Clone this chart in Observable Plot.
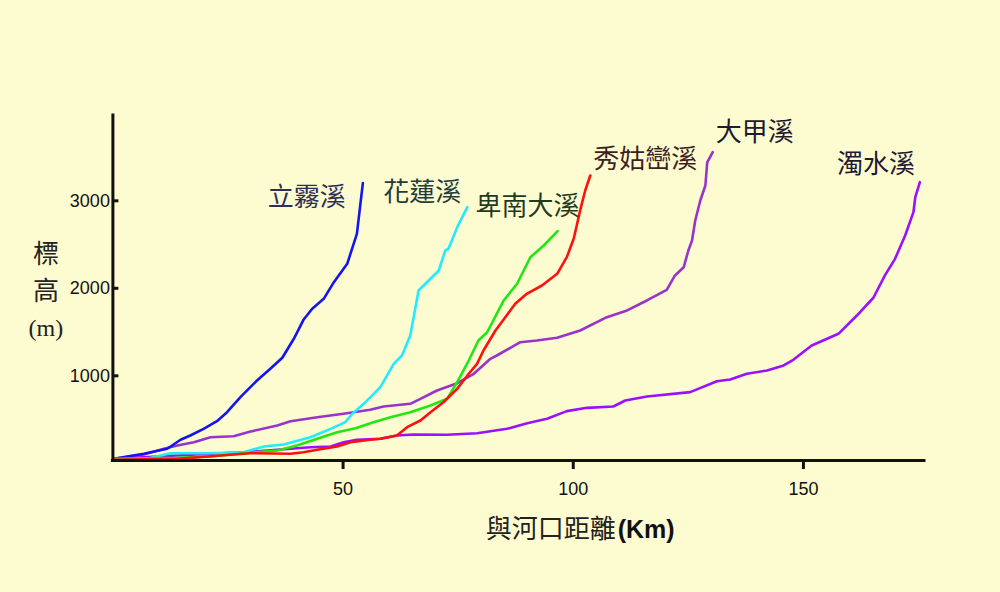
<!DOCTYPE html>
<html><head><meta charset="utf-8">
<script src="https://cdn.jsdelivr.net/npm/d3@7"></script>
<script src="https://cdn.jsdelivr.net/npm/@observablehq/plot@0.6"></script>
<style>html,body{margin:0;padding:0;background:#fdfcd0;} #chart svg{display:block}</style>
</head><body><div id="chart"></div>
<script>
// river names
const rivers = ["立霧溪", "花蓮溪", "卑南大溪", "秀姑巒溪", "大甲溪", "濁水溪"];

// distance from river mouth (km) and elevation (m) for each river
const liwuDist = [0.2, 6.7, 11.8, 14.7, 16.8, 19.7, 22.6, 24.8, 27.7, 31.3, 34.2, 36.8, 39.3, 41.4, 43.3, 45.8, 48.0, 50.9, 53.0, 53.6, 54.3];
const liwuElev = [51, 109, 166, 269, 318, 394, 481, 584, 756, 946, 1080, 1206, 1423, 1640, 1766, 1880, 2070, 2280, 2623, 2890, 3202];

const hualienDist = [6.2, 12.5, 21.2, 28.4, 32.8, 37.1, 42.9, 47.3, 50.5, 52.0, 54.5, 58.1, 61.0, 62.8, 64.6, 66.4, 70.8, 72.2, 72.9, 74.8, 77.0];
const hualienElev = [38, 115, 115, 127, 192, 215, 298, 394, 470, 566, 680, 870, 1137, 1232, 1461, 1975, 2204, 2432, 2452, 2699, 2927];

const beinanDist = [0.2, 14.0, 21.2, 28.4, 35.7, 40.0, 44.4, 48.7, 52.7, 56.6, 60.3, 64.6, 69.0, 72.6, 74.8, 77.3, 79.4, 81.3, 84.9, 87.8, 90.7, 93.6, 96.6];
const beinanElev = [51, 63, 78, 115, 146, 203, 280, 355, 401, 470, 527, 584, 661, 737, 929, 1175, 1404, 1498, 1861, 2052, 2356, 2489, 2653];

const xiuguluanDist = [0.2, 14.0, 23.4, 29.9, 38.6, 41.4, 44.4, 48.7, 51.6, 55.9, 58.1, 61.7, 63.9, 66.8, 69.0, 71.8, 74.8, 77.3, 79.1, 80.5, 83.1, 84.2, 87.4, 89.9, 93.2, 96.5, 98.6, 100.1, 101.5, 102.6, 103.7];
const xiuguluanElev = [40, 51, 89, 115, 109, 127, 154, 192, 241, 269, 280, 318, 413, 489, 584, 698, 852, 1023, 1137, 1289, 1518, 1594, 1823, 1937, 2032, 2166, 2356, 2566, 2890, 3118, 3289];

const dajiaDist = [0.2, 6.7, 11.1, 14.0, 17.6, 21.2, 26.2, 29.9, 35.7, 38.6, 44.4, 50.1, 55.9, 58.8, 64.6, 66.8, 70.4, 74.8, 78.4, 82.0, 83.4, 88.5, 92.1, 96.5, 101.5, 107.3, 111.7, 116.0, 120.3, 122.1, 124.0, 125.0, 125.8, 126.5, 127.6, 128.7, 129.1, 130.3];
const dajiaElev = [51, 101, 166, 203, 241, 298, 310, 363, 432, 481, 527, 566, 612, 649, 680, 737, 832, 916, 1023, 1194, 1232, 1384, 1404, 1434, 1518, 1670, 1747, 1861, 1983, 2147, 2241, 2432, 2547, 2775, 3004, 3175, 3438, 3556];

const zhuoshuiDist = [0.2, 14.0, 21.2, 28.4, 35.7, 42.9, 47.3, 50.1, 53.0, 58.1, 61.7, 65.3, 72.6, 79.1, 85.6, 90.0, 94.3, 98.6, 103.0, 108.7, 111.3, 116.0, 125.4, 131.2, 134.1, 137.7, 142.1, 145.7, 147.8, 151.8, 157.6, 161.6, 165.2, 167.7, 169.9, 172.1, 173.9, 174.3, 175.3];
const zhuoshuiElev = [51, 89, 109, 127, 154, 184, 192, 241, 269, 280, 318, 329, 326, 344, 394, 458, 509, 596, 634, 649, 718, 764, 813, 938, 958, 1023, 1061, 1118, 1183, 1346, 1480, 1689, 1892, 2147, 2337, 2604, 2870, 3041, 3213];

// tick values
const xTicks = [50, 100, 150];
const yTicks = [1000, 2000, 3000];

// axis titles
const yTitle = "標\n高";
const yUnit = "(m)";
const xTitle = "與河口距離";
const xUnit = "(Km)";

// styles (kept apart from data)
const lineColors = ["#1414ee", "#22eaff", "#22e614", "#ff1010", "#9933cc", "#9a10ff"];
const labelColors = ["#2e2e5c", "#1f3d3d", "#1f3a1f", "#3d1f1f", "#231a30", "#231a33"];
const labelOffsets = [[-56, 15], [-45, -15], [-30, -24], [55, -16], [42, -19], [-44, -18]];

const dists = [liwuDist, hualienDist, beinanDist, xiuguluanDist, dajiaDist, zhuoshuiDist];
const elevs = [liwuElev, hualienElev, beinanElev, xiuguluanElev, dajiaElev, zhuoshuiElev];

const series = rivers.map((name, i) => dists[i].map((d, j) => ({river: name, dist: d, elev: elevs[i][j]})));

const xDomain = [0, 176.3];
const yDomain = [32, 3975];
const cjk = "'Noto Sans CJK TC', 'Noto Sans CJK SC', sans-serif";
const sans = "'Liberation Sans', Arial, sans-serif";
const fmt = d => String(d);

const marks = [];
// curves (draw purples first)
[4, 5, 0, 1, 2, 3].forEach(i => {
  marks.push(Plot.line(series[i], {x: "dist", y: "elev", stroke: lineColors[i], strokeWidth: 2.6, strokeLinejoin: "round", strokeLinecap: "round"}));
});
// labels at end of curves
rivers.forEach((name, i) => {
  const last = series[i][series[i].length - 1];
  marks.push(Plot.text([last], {x: "dist", y: "elev", text: () => name, dx: labelOffsets[i][0], dy: labelOffsets[i][1],
    fontSize: 26, fontFamily: cjk, fill: labelColors[i], textAnchor: "middle", lineAnchor: "middle"}));
});
// axis lines
marks.push(Plot.ruleX([xDomain[0]], {stroke: "#111", strokeWidth: 3, strokeLinecap: "square"}));
marks.push(Plot.ruleY([yDomain[0]], {stroke: "#111", strokeWidth: 3, strokeLinecap: "square"}));
// ticks
marks.push(Plot.axisX({ticks: xTicks, tickFormat: fmt, label: null, tickSize: 9, tickPadding: 13, fontSize: 18, fontFamily: sans, strokeWidth: 3, stroke: "#111", fill: "#111"}));
marks.push(Plot.axisY({ticks: yTicks, tickFormat: fmt, label: null, tickSize: 0, tickPadding: 3, fontSize: 18, fontFamily: sans, fill: "#111"}));
marks.push(Plot.axisY({ticks: yTicks, label: null, tickSize: 6, dx: 6, tickFormat: () => "", strokeWidth: 3, stroke: "#111"}));
// axis titles
marks.push(Plot.text([yTitle], {frameAnchor: "left", text: d => d, dx: -67, dy: -18, fontSize: 26, lineHeight: 1.42, fontFamily: cjk, fill: "#222", textAnchor: "middle", lineAnchor: "middle"}));
marks.push(Plot.text([yUnit], {frameAnchor: "left", text: d => d, dx: -67, dy: 40, fontSize: 24, fontFamily: "'Liberation Serif', 'DejaVu Serif', serif", fill: "#222", textAnchor: "middle", lineAnchor: "middle"}));
marks.push(Plot.text([xTitle], {frameAnchor: "bottom", text: d => d, dx: 97, dy: 69, fontSize: 26, fontFamily: cjk, fill: "#222", textAnchor: "end", lineAnchor: "middle"}));
marks.push(Plot.text([xUnit], {frameAnchor: "bottom", text: d => d, dx: 99, dy: 69, fontSize: 25, fontWeight: "bold", fontFamily: sans, fill: "#111", textAnchor: "start", lineAnchor: "middle"}));

const chart = Plot.plot({
  width: 1000,
  height: 592,
  marginLeft: 112.4,
  marginRight: 76,
  marginTop: 115,
  marginBottom: 132,
  x: {domain: xDomain, label: null},
  y: {domain: yDomain, label: null},
  style: {background: "#fdfcd0", overflow: "visible"},
  marks
});
document.getElementById("chart").appendChild(chart);
</script>
</body></html>
